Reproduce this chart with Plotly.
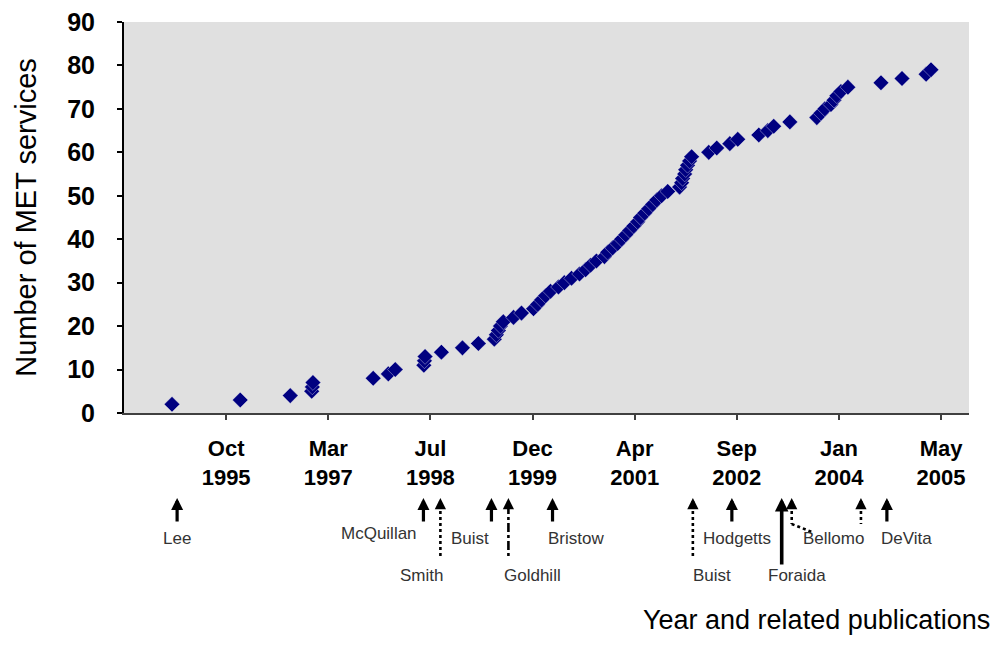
import plotly.graph_objects as go

# ---------------- data ----------------
service_dates = [
    "1995-02-05",
    "1996-01-05",
    "1996-09-06",
    "1996-12-20", "1996-12-23", "1996-12-26",
    "1997-10-17",
    "1997-12-30",
    "1998-02-02",
    "1998-06-22", "1998-06-25", "1998-06-28",
    "1998-09-16",
    "1998-12-28",
    "1999-03-16",
    "1999-06-02", "1999-06-12", "1999-06-22", "1999-07-02", "1999-07-16",
    "1999-09-04",
    "1999-10-13",
    "1999-12-11", "1999-12-31", "2000-01-19", "2000-02-08", "2000-03-03",
    "2000-04-11", "2000-05-10", "2000-06-14",
    "2000-07-23", "2000-08-22", "2000-09-15", "2000-10-14",
    "2000-11-22", "2000-12-08", "2001-01-01", "2001-01-26",
    "2001-02-14", "2001-03-06", "2001-03-26", "2001-04-14", "2001-05-04", "2001-05-18", "2001-06-07", "2001-06-27",
    "2001-07-16", "2001-08-05", "2001-08-29", "2001-09-28",
    "2001-11-25", "2001-12-05", "2001-12-10", "2001-12-20", "2001-12-25", "2002-01-03", "2002-01-13", "2002-01-23",
    "2002-04-17", "2002-05-26",
    "2002-07-29", "2002-09-06",
    "2002-12-18", "2003-01-31", "2003-03-01", "2003-05-19",
    "2003-09-28", "2003-10-18", "2003-11-06",
    "2003-12-06", "2003-12-21", "2004-01-04", "2004-01-24",
    "2004-02-27",
    "2004-08-07", "2004-11-18", "2005-03-16", "2005-04-09",
]
service_counts = [
    2, 3, 4, 5, 6, 7, 8, 9, 10, 11, 12, 13, 14, 15, 16, 17, 18, 19, 20, 21,
    22, 23, 24, 25, 26, 27, 28, 29, 30, 31, 32, 33, 34, 35, 36, 37, 38, 39,
    40, 41, 42, 43, 44, 45, 46, 47, 48, 49, 50, 51, 52, 53, 54, 55, 56, 57,
    58, 59, 60, 61, 62, 63, 64, 65, 66, 67, 68, 69, 70, 71, 72, 73, 74, 75,
    76, 77, 78, 79,
]

tick_dates = ["1995-10-28", "1997-03-11", "1998-07-24", "1999-12-06",
              "2001-04-19", "2002-09-01", "2004-01-14", "2005-05-28"]
tick_months = ["Oct", "Mar", "Jul", "Dec", "Apr", "Sep", "Jan", "May"]
tick_years = ["1995", "1997", "1998", "1999", "2001", "2002", "2004", "2005"]
y_ticks = [0, 10, 20, 30, 40, 50, 60, 70, 80, 90]

pub_names = ["Lee", "McQuillan", "Smith", "Buist", "Goldhill", "Bristow",
             "Buist", "Hodgetts", "Foraida", "Bellomo", "", "DeVita"]
pub_dates = ["1995-03-02", "1998-06-20", "1998-09-11", "1999-05-19",
             "1999-08-10", "2000-03-13", "2002-01-29", "2002-08-08",
             "2003-04-09", "2003-05-28", "2004-05-01", "2004-09-05"]
bellomo_link_end = "2003-09-04"

# ---------------- styles / layout helpers ----------------
pub_styles = ["solid", "solid", "dotlong", "solid", "dashdotlong", "solid",
              "dotlong", "solid", "longsolid", "bent", "dotshort", "solid"]
# label placement: (row, xshift px, xanchor)
label_place = [(1, 0, "center"), (0, -4, "right"), (2, -19, "center"),
               (1, -21, "center"), (2, 24, "center"), (1, 23, "center"),
               (2, 19, "center"), (1, 5, "center"), (2, 15, "center"),
               (1, 42, "center"), (1, 0, "center"), (1, 20, "center")]

PLOT_LEFT, PLOT_RIGHT = 124, 969
PLOT_TOP, PLOT_BOTTOM = 22, 413
PLOT_H = PLOT_BOTTOM - PLOT_TOP


def paper_y(px):
    return (PLOT_BOTTOM - px) / PLOT_H


FONT = "Arial, 'Liberation Sans', sans-serif"
NAVY = "#000080"

fig = go.Figure()
fig.add_trace(go.Scatter(
    x=service_dates, y=service_counts, mode="markers",
    marker=dict(symbol="diamond", size=12, color=NAVY,
                line=dict(width=0.6, color="rgba(255,255,255,0.6)")),
    showlegend=False, hoverinfo="x+y",
))

shapes = []
annotations = []
HEAD = paper_y(498)
for name, d, style, place in zip(pub_names, pub_dates, pub_styles, label_place):
    if style in ("solid", "longsolid"):
        annotations.append(dict(
            x=d, y=HEAD, xref="x", yref="paper", text="", showarrow=True,
            ax=0, ay=25 if style == "solid" else 68, axref="pixel", ayref="pixel",
            arrowhead=2, arrowsize=0.75, arrowwidth=3.2 if style == "solid" else 3.6,
            arrowcolor="#000000", standoff=0,
        ))
    else:
        annotations.append(dict(
            x=d, y=HEAD, xref="x", yref="paper", text="", showarrow=True,
            ax=0, ay=9, arrowhead=2, arrowsize=0.75, arrowwidth=3,
            arrowcolor="#000000", standoff=0,
        ))
        dash = "dashdot" if style == "dashdotlong" else "dot"
        bottom = 558 if style in ("dotlong", "dashdotlong") else 524
        shapes.append(dict(type="line", xref="x", yref="paper",
                           x0=d, x1=d, y0=paper_y(505), y1=paper_y(bottom),
                           line=dict(color="#000000", width=2.6, dash=dash)))
        if style == "bent":
            shapes.append(dict(type="line", xref="x", yref="paper",
                               x0=d, x1=bellomo_link_end,
                               y0=paper_y(524), y1=paper_y(532),
                               line=dict(color="#000000", width=2.6, dash="dot")))
    if name:
        row, xs, xa = place
        ypx = {0: 533, 1: 538, 2: 575}[row]
        annotations.append(dict(
            x=d, y=paper_y(ypx), xref="x", yref="paper", text=name,
            showarrow=False, xshift=xs, xanchor=xa, yanchor="middle",
            font=dict(family=FONT, size=17, color="#333333"),
        ))

annotations.append(dict(
    x=(992 - PLOT_LEFT) / (PLOT_RIGHT - PLOT_LEFT), y=paper_y(620),
    xref="paper", yref="paper",
    text="Year and related publications", showarrow=False,
    xanchor="right", yanchor="middle",
    font=dict(family=FONT, size=27, color="#000000"),
))

fig.update_layout(
    width=1004, height=647,
    margin=dict(l=PLOT_LEFT, r=1004 - PLOT_RIGHT, t=PLOT_TOP, b=647 - PLOT_BOTTOM,
                autoexpand=False),
    paper_bgcolor="#FFFFFF", plot_bgcolor="#E0E0E0",
    font=dict(family=FONT, color="#000000"),
    shapes=shapes, annotations=annotations,
    xaxis=dict(
        type="date", range=["1994-06-15", "2005-10-12"],
        tickmode="array", tickvals=tick_dates,
        ticktext=[f"{m}<br>{yr}" for m, yr in zip(tick_months, tick_years)],
        tickfont=dict(family=FONT, size=22, color="#000000", weight="bold"),
        ticks="outside", ticklen=5, tickwidth=2, tickcolor="#404040",
        showline=True, linecolor="#404040", linewidth=2,
        showgrid=False, zeroline=False, ticklabelstandoff=10,
        automargin=False,
    ),
    yaxis=dict(
        range=[0, 90], tickmode="array", tickvals=y_ticks,
        tickfont=dict(family=FONT, size=25, color="#000000", weight="bold"),
        ticks="outside", ticklen=5, tickwidth=1.5, tickcolor="#000000",
        showline=True, linecolor="#000000", linewidth=2,
        showgrid=False, zeroline=False, ticklabelstandoff=17,
        title=dict(text="Number of MET services",
                   font=dict(family=FONT, size=29, color="#000000"),
                   standoff=22),
        automargin=False,
    ),
)

fig.write_html("out.html",
               config={"displayModeBar": False},
               post_script="document.body.style.margin='0';")
